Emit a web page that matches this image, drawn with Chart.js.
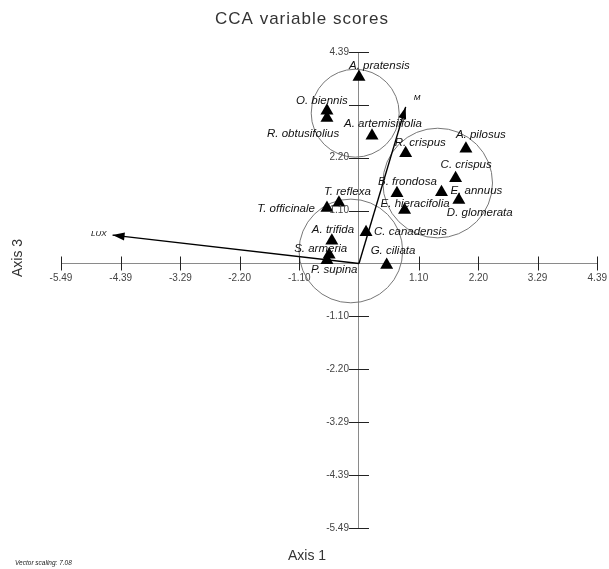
<!DOCTYPE html>
<html>
<head>
<meta charset="utf-8">
<script src="https://cdn.jsdelivr.net/npm/chart.js@4"></script>
<style>
  html, body { margin: 0; padding: 0; background: #fff; }
</style>
</head>
<body>
<canvas id="cca" width="609" height="569"></canvas>
<script>
// species scores (axis 1, axis 3)
const species = ['A. pratensis', 'O. biennis', 'R. obtusifolius', 'A. artemisiifolia', 'R. crispus',
  'A. pilosus', 'C. crispus', 'B. frondosa', 'E. annuus', 'E. hieracifolia', 'D. glomerata',
  'T. reflexa', 'T. officinale', 'C. canadensis', 'A. trifida', 'S. armeria', 'P. supina', 'G. ciliata'];
const speciesX = [0.00, -0.59, -0.59, 0.24, 0.86, 1.97, 1.78, 0.70, 1.52, 0.84, 1.84, -0.37, -0.59, 0.13, -0.50, -0.55, -0.59, 0.51];
const speciesY = [3.87, 3.17, 3.02, 2.65, 2.29, 2.38, 1.77, 1.46, 1.48, 1.11, 1.32, 1.26, 1.15, 0.65, 0.47, 0.18, 0.07, -0.03];

// environmental vectors
const vectorNames = ['M', 'LUX'];
const vectorX = [0.86, -4.54];
const vectorY = [3.25, 0.59];

// group outlines (centre and radius in axis 1 units)
const groupX = [-0.07, 1.45, -0.15];
const groupY = [3.12, 1.67, 0.26];
const groupR = [0.81, 1.01, 0.955];

const xTicks = [-5.49, -4.39, -3.29, -2.20, -1.10, 1.10, 2.20, 3.29, 4.39];
const xTickLabels = ['-5.49', '-4.39', '-3.29', '-2.20', '-1.10', '1.10', '2.20', '3.29', '4.39'];
const yTicks = [4.39, 3.29, 2.20, 1.10, -1.10, -2.20, -3.29, -4.39, -5.49];
const yTickLabels = ['4.39', '', '2.20', '1.10', '-1.10', '-2.20', '-3.29', '-4.39', '-5.49'];

// label placement, pixel offsets from the marker
const labelDx = [-10, -31, -60, -28, -11, -10, -15, -19, 9, -24, -12, -15, -5, 8, -20, -35, -16, -16];
const labelDy = [-11, -10, 16, -12, -10, -14, -13, -11, -1, -6, 13, -11, 1, 0, -11, -6, 10, -14];
const labelRight = [false, false, false, false, false, false, false, false, false, false, false, false, true, false, false, false, false, false];

const toPoints = (xs, ys) => xs.map((x, i) => ({ x: x, y: ys[i] }));

const xScaleUnit = chart => chart.scales.x.getPixelForValue(1) - chart.scales.x.getPixelForValue(0);

const arrowsAndLabels = {
  id: 'arrowsAndLabels',
  afterDatasetsDraw(chart) {
    const { ctx, scales } = chart;
    const ox = scales.x.getPixelForValue(0);
    const oy = scales.y.getPixelForValue(0);
    ctx.save();
    // arrow heads
    vectorNames.forEach((name, i) => {
      const tx = scales.x.getPixelForValue(vectorX[i]);
      const ty = scales.y.getPixelForValue(vectorY[i]);
      const a = Math.atan2(ty - oy, tx - ox);
      ctx.fillStyle = '#000';
      ctx.beginPath();
      ctx.moveTo(tx, ty);
      ctx.lineTo(tx - 12 * Math.cos(a) + 4 * Math.sin(a), ty - 12 * Math.sin(a) - 4 * Math.cos(a));
      ctx.lineTo(tx - 12 * Math.cos(a) - 4 * Math.sin(a), ty - 12 * Math.sin(a) + 4 * Math.cos(a));
      ctx.closePath();
      ctx.fill();
      ctx.font = 'italic 8px "Liberation Sans"';
      ctx.textBaseline = 'middle';
      if (tx < ox) {
        ctx.textAlign = 'right';
        ctx.fillText(name, tx - 6, ty - 1);
      } else {
        ctx.textAlign = 'left';
        ctx.fillText(name, tx + 8, ty - 9);
      }
    });
    // species names
    ctx.fillStyle = '#111';
    ctx.font = 'italic 11.5px "Liberation Sans"';
    ctx.textBaseline = 'middle';
    species.forEach((name, i) => {
      const px = scales.x.getPixelForValue(speciesX[i]);
      const py = scales.y.getPixelForValue(speciesY[i]);
      ctx.textAlign = labelRight[i] ? 'right' : 'left';
      ctx.fillText(name, px + labelDx[i] + (labelRight[i] ? -7 : 0), py + labelDy[i]);
    });
    ctx.restore();
  }
};

const innerTicks = {
  id: 'innerTicks',
  afterDraw(chart) {
    const { ctx, scales } = chart;
    const ox = scales.x.getPixelForValue(0);
    const oy = scales.y.getPixelForValue(0);
    ctx.save();
    ctx.strokeStyle = '#222';
    ctx.lineWidth = 1;
    ctx.beginPath();
    xTicks.forEach(v => {
      const px = Math.round(scales.x.getPixelForValue(v)) + 0.5;
      ctx.moveTo(px, oy - 7);
      ctx.lineTo(px, oy + 7);
    });
    yTicks.forEach(v => {
      const py = Math.round(scales.y.getPixelForValue(v)) + 0.5;
      ctx.moveTo(ox - 10, py);
      ctx.lineTo(ox + 10, py);
    });
    ctx.stroke();

    // y tick labels, left of the tick marks
    ctx.fillStyle = '#444';
    ctx.font = '10px "Liberation Sans"';
    ctx.textAlign = 'right';
    ctx.textBaseline = 'middle';
    yTicks.forEach((v, i) => {
      ctx.fillText(yTickLabels[i], ox - 10, scales.y.getPixelForValue(v));
    });

    // titles
    ctx.fillStyle = '#333';
    ctx.textAlign = 'center';
    ctx.textBaseline = 'middle';
    ctx.font = '17px "Liberation Sans"';
    ctx.letterSpacing = '1px';
    ctx.fillText('CCA variable scores', 302, 19);
    ctx.letterSpacing = '0px';
    ctx.font = '14px "Liberation Sans"';
    ctx.fillText('Axis 1', 307, 556);
    ctx.save();
    ctx.translate(18, 258);
    ctx.rotate(-Math.PI / 2);
    ctx.fillText('Axis 3', 0, 0);
    ctx.restore();
    ctx.textAlign = 'left';
    ctx.font = 'italic 6.5px "Liberation Sans"';
    ctx.fillStyle = '#222';
    ctx.fillText('Vector scaling: 7.08', 15, 563);
    ctx.restore();
  }
};

const vectorSets = vectorNames.map((name, i) => ({
  type: 'line',
  label: name,
  data: [{ x: 0, y: 0 }, { x: vectorX[i], y: vectorY[i] }],
  borderColor: '#000',
  borderWidth: 1.4,
  pointRadius: 0,
  fill: false
}));

new Chart(document.getElementById('cca'), {
  type: 'scatter',
  data: {
    datasets: [
      {
        label: 'species',
        data: toPoints(speciesX, speciesY),
        pointStyle: 'triangle',
        pointRadius: 7.5,
        backgroundColor: '#000',
        borderColor: '#000',
        borderWidth: 0
      },
      ...vectorSets,
      {
        label: 'groups',
        data: toPoints(groupX, groupY),
        pointStyle: 'circle',
        pointRadius: ctx => groupR[ctx.dataIndex] * xScaleUnit(ctx.chart),
        backgroundColor: 'rgba(0,0,0,0)',
        borderColor: '#777',
        borderWidth: 1
      }
    ]
  },
  options: {
    responsive: false,
    animation: false,
    layout: { padding: { left: 61, right: 10, top: 52, bottom: 41 } },
    plugins: {
      legend: { display: false },
      title: { display: false },
      tooltip: { enabled: false }
    },
    scales: {
      x: {
        type: 'linear',
        min: -5.49,
        max: 4.39,
        position: { y: 0 },
        afterBuildTicks: s => { s.ticks = xTicks.map(v => ({ value: v })); },
        ticks: {
          autoSkip: false,
          maxRotation: 0,
          padding: 2,
          color: '#444',
          font: { family: 'Liberation Sans', size: 10 },
          callback: (v, i) => xTickLabels[i]
        },
        grid: { display: false, drawOnChartArea: false, drawTicks: true, tickLength: 7 },
        border: { display: true, color: '#8a8a8a', dash: [2, 1], width: 1 }
      },
      y: {
        type: 'linear',
        min: -5.49,
        max: 4.39,
        position: { x: 0 },
        afterBuildTicks: s => { s.ticks = yTicks.map(v => ({ value: v })); },
        ticks: { display: false, autoSkip: false },
        grid: { display: false, drawOnChartArea: false, drawTicks: false },
        border: { display: true, color: '#8a8a8a', dash: [2, 1], width: 1 }
      }
    }
  },
  plugins: [arrowsAndLabels, innerTicks]
});
</script>
</body>
</html>
